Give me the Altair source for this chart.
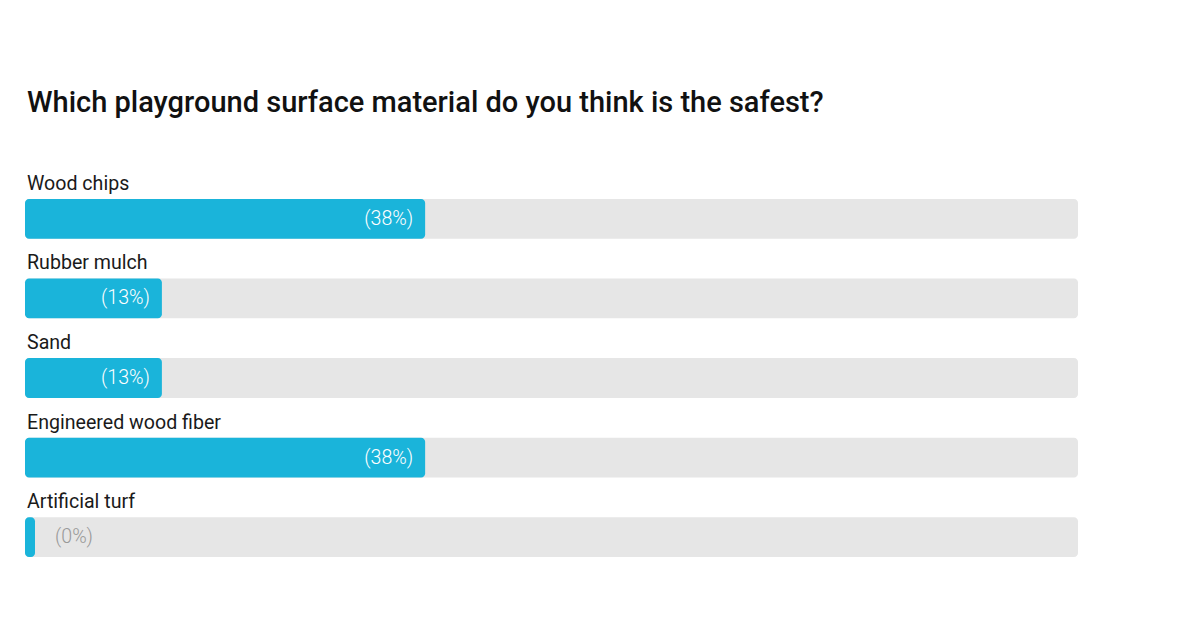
import altair as alt
import pandas as pd

categories = ["Wood chips", "Rubber mulch", "Sand", "Engineered wood fiber", "Artificial turf"]
percents = [38, 13, 13, 38, 0]
pct_labels = ["(38%)", "(13%)", "(13%)", "(38%)", "(0%)"]

df = pd.DataFrame({"cat": categories, "pct": percents, "label": pct_labels})

BLUE = "#1ab4da"
GRAY = "#e6e6e6"

W = 1053
H = 358

x_scale = alt.Scale(domain=[0, 100], nice=False, zero=True)
y_scale = alt.Scale(domain=categories, paddingInner=0.5, paddingOuter=0)
y_enc = alt.Y("cat:N", scale=y_scale, axis=None, sort=categories)

base = alt.Chart(df)

bg = base.mark_bar(color=GRAY, cornerRadius=4).encode(
    x=alt.X("zero:Q", scale=x_scale, axis=None),
    x2="full:Q",
    y=y_enc,
).transform_calculate(zero="0", full="100")

fg = base.mark_bar(color=BLUE, cornerRadius=4).encode(
    x=alt.X("zero:Q", scale=x_scale, axis=None),
    x2="end:Q",
    y=y_enc,
).transform_calculate(zero="0", end="max(datum.pct, 0.95)")

names = base.mark_text(
    align="left", baseline="alphabetic", dx=2, dy=-29,
    font="Roboto", fontSize=19.6, color="#1a1a1a",
).encode(
    x=alt.X("zero:Q", scale=x_scale, axis=None),
    y=y_enc,
    text="cat:N",
).transform_calculate(zero="0")

inside = base.mark_text(
    align="right", baseline="middle", dx=-12,
    font="Roboto", fontSize=19.6, fontWeight=300, color="white",
).encode(
    x=alt.X("pct:Q", scale=x_scale, axis=None),
    y=y_enc,
    text="label:N",
).transform_filter("datum.pct > 0")

outside = base.mark_text(
    align="left", baseline="middle", dx=20,
    font="Roboto", fontSize=19.6, fontWeight=300, color="#999999",
).encode(
    x=alt.X("end:Q", scale=x_scale, axis=None),
    y=y_enc,
    text="label:N",
).transform_calculate(end="max(datum.pct, 0.95)").transform_filter("datum.pct == 0")

chart = alt.layer(bg, fg, names, inside, outside).properties(
    width=W,
    height=H,
    title=alt.TitleParams(
        "Which playground surface material do you think is the safest?",
        anchor="start", frame="group", font="Roboto", fontSize=29,
        fontWeight=500, color="#111111", offset=56, dx=2,
    ),
    autosize=alt.AutoSizeParams(type="none"),
    padding={"left": 25, "top": 199, "right": 122, "bottom": 71},
    background="white",
).configure_view(stroke=None)

chart.save("out.html", embed_options={"renderer": "svg", "actions": False})
